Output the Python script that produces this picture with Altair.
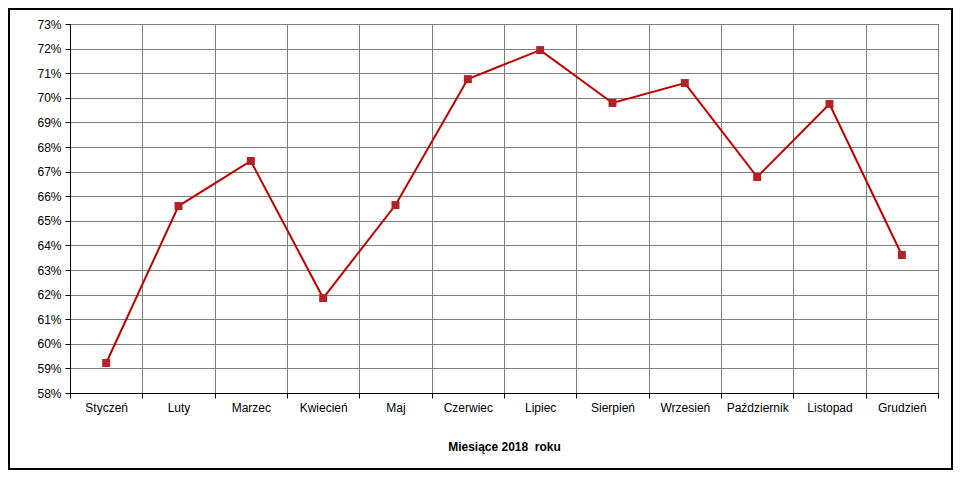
import altair as alt
import pandas as pd

months = ["Styczeń", "Luty", "Marzec", "Kwiecień", "Maj", "Czerwiec", "Lipiec",
          "Sierpień", "Wrzesień", "Październik", "Listopad", "Grudzień"]
values = [59.22, 65.60, 67.43, 61.86, 65.64, 70.76, 71.94, 69.79, 70.60, 66.78, 69.75, 63.61]
y_ticks = [58, 59, 60, 61, 62, 63, 64, 65, 66, 67, 68, 69, 70, 71, 72, 73]

df = pd.DataFrame({"month": months, "value": [v / 100 for v in values]})

FONT = "Liberation Sans"

x_enc = alt.X("month:N", sort=months,
              scale=alt.Scale(paddingInner=0, paddingOuter=0),
              axis=alt.Axis(title="Miesiące 2018\u00a0 roku", labelAngle=0, tickBand="extent",
                            grid=True, gridColor="#808080", gridWidth=1,
                            domainColor="black", tickColor="black", tickSize=5,
                            labelPadding=4, titlePadding=28, titleFontWeight="bold",
                            titleFontSize=12, labelFontSize=12, labelColor="black",
                            titleColor="black", labelFont=FONT, titleFont=FONT))
y_enc = alt.Y("value:Q",
              scale=alt.Scale(domain=[0.58, 0.73], nice=False, zero=False),
              axis=alt.Axis(title=None, values=[t / 100 for t in y_ticks], format=".0%",
                            grid=True, gridColor="#808080", gridWidth=1,
                            domainColor="black", tickColor="black", tickSize=5,
                            labelPadding=4, labelFontSize=12, labelColor="black",
                            labelFont=FONT))

base = alt.Chart(df)
line = base.mark_line(color="#c00000", strokeWidth=2).encode(x=x_enc, y=y_enc)
pts = base.mark_square(color="#b02428", size=64, opacity=1).encode(x=x_enc, y=y_enc)

frame_df = pd.DataFrame({"a": [0]})
frame = alt.Chart(frame_df).mark_rect(
    fill="transparent", stroke="black", strokeWidth=2, clip=False
).encode(x=alt.value(-61), x2=alt.value(882), y=alt.value(-15), y2=alt.value(445))

chart = alt.layer(line, pts, frame).properties(
    width=868, height=369,
    autosize=alt.AutoSizeParams(type="none"),
    padding={"left": 62, "top": 16, "right": 16, "bottom": 78},
    background="white",
).configure_view(stroke="black", strokeWidth=1)

chart.save("out.html", embed_options={"renderer": "svg", "actions": False})
